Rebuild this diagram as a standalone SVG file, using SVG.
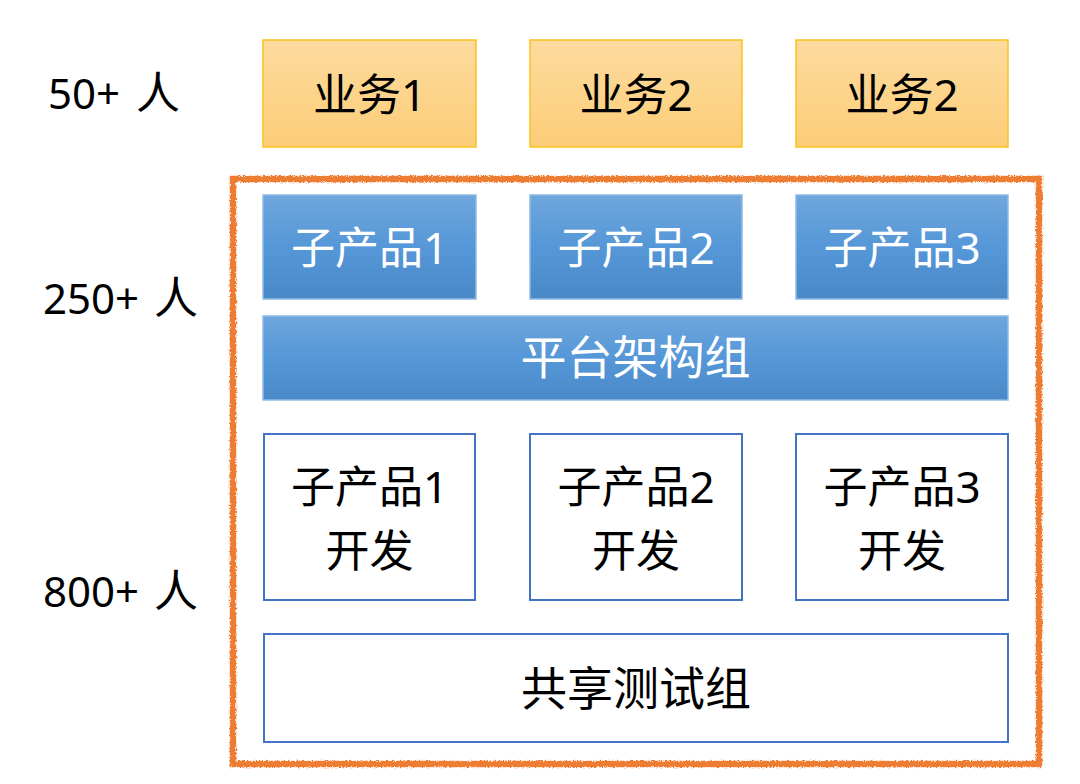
<svg xmlns="http://www.w3.org/2000/svg" width="1080" height="784" viewBox="0 0 1080 784">
<defs>
<linearGradient id="gOrange" x1="0" y1="0" x2="0" y2="1">
<stop offset="0" stop-color="#fddb9e"/><stop offset="1" stop-color="#fccd78"/>
</linearGradient>
<linearGradient id="gBlue" x1="0" y1="0" x2="0" y2="1">
<stop offset="0" stop-color="#6fa6dc"/><stop offset="0.5" stop-color="#5597d8"/><stop offset="1" stop-color="#4a89c8"/>
</linearGradient>
<filter id="rough" x="-5%" y="-5%" width="110%" height="110%">
<feTurbulence type="fractalNoise" baseFrequency="0.6" numOctaves="2" seed="3" result="n"/>
<feDisplacementMap in="SourceGraphic" in2="n" scale="4" xChannelSelector="R" yChannelSelector="G"/>
</filter>
<style>
text{font-family:"Noto Sans","Noto Sans CJK SC",sans-serif;font-size:44px;text-anchor:middle}
.cjk{font-size:46px}
.lbl{text-anchor:start;font-size:42px;fill:#000}
.ren{font-size:44px}
.biz{fill:url(#gOrange);stroke:#fcc21b;stroke-width:1.5}
.blue{fill:url(#gBlue);stroke:#8dbbe6;stroke-width:1.5}
.dev{fill:#fff;stroke:#4472c4;stroke-width:2}
.wt{fill:#fff}
.bt{fill:#000}
</style>
</defs>
<rect width="1080" height="784" fill="#fff"/>
<g id="labels">
<text class="lbl" x="48" y="109">50+<tspan class="ren" x="136">人</tspan></text>
<text class="lbl" x="43" y="314">250+<tspan class="ren" x="154">人</tspan></text>
<text class="lbl" x="43" y="607">800+<tspan class="ren" x="154">人</tspan></text>
</g>
<g id="frame">
<rect x="233" y="179" width="806" height="585" fill="none" stroke="#ed7d31" stroke-width="6.5" filter="url(#rough)"/>
</g>
<g id="biz1"><rect class="biz" x="263" y="40" width="213" height="107"/><text class="bt" x="369.5" y="111">业务1</text></g>
<g id="biz2"><rect class="biz" x="530" y="40" width="212" height="107"/><text class="bt" x="636" y="111">业务2</text></g>
<g id="biz3"><rect class="biz" x="796" y="40" width="212" height="107"/><text class="bt" x="902" y="111">业务2</text></g>
<g id="prod1"><rect class="blue" x="263" y="195" width="213" height="104"/><text class="wt" x="369.5" y="264">子产品1</text></g>
<g id="prod2"><rect class="blue" x="530" y="195" width="212" height="104"/><text class="wt" x="636" y="264">子产品2</text></g>
<g id="prod3"><rect class="blue" x="796" y="195" width="212" height="104"/><text class="wt" x="902" y="264">子产品3</text></g>
<g id="platform"><rect class="blue" x="263" y="316" width="745" height="84"/><text class="wt cjk" x="635.5" y="374">平台架构组</text></g>
<g id="dev1"><rect class="dev" x="264" y="434" width="211" height="166"/><text class="bt" x="369.5" y="503">子产品1</text><text class="bt" x="369.5" y="567">开发</text></g>
<g id="dev2"><rect class="dev" x="530" y="434" width="212" height="166"/><text class="bt" x="636" y="503">子产品2</text><text class="bt" x="636" y="567">开发</text></g>
<g id="dev3"><rect class="dev" x="796" y="434" width="212" height="166"/><text class="bt" x="902" y="503">子产品3</text><text class="bt" x="902" y="567">开发</text></g>
<g id="test"><rect class="dev" x="264" y="634" width="744" height="108"/><text class="bt cjk" x="636" y="705">共享测试组</text></g>
<g id="connectors"/>
</svg>
